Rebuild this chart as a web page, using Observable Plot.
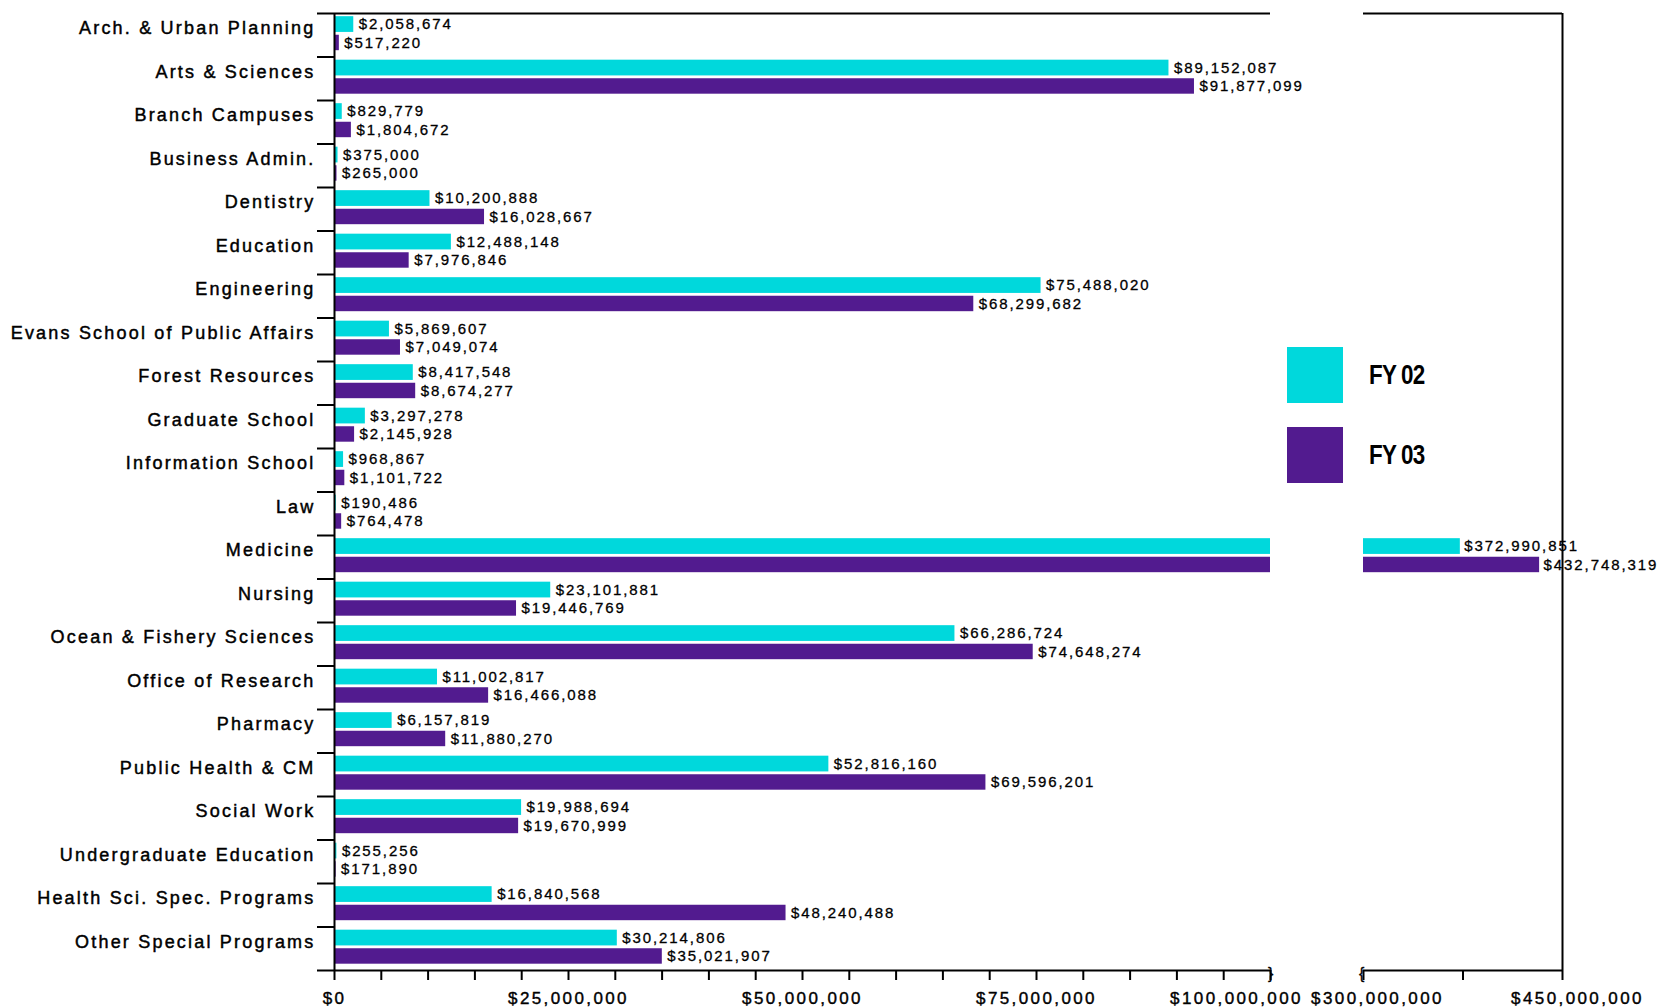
<!DOCTYPE html>
<html>
<head>
<meta charset="utf-8">
<script src="https://cdn.jsdelivr.net/npm/d3@7"></script>
<script src="https://cdn.jsdelivr.net/npm/@observablehq/plot@0.6"></script>
<style>
  body { margin: 0; background: #fff; }
  #wrap { position: relative; width: 1663px; height: 1008px; overflow: hidden; background: #fff;
          font-family: "Liberation Sans", Arial, sans-serif; }
  #wrap svg { position: absolute; top: 0; overflow: visible; background: transparent; }
  [aria-label="y-axis tick label"] text { letter-spacing: 2.2px; stroke: #000; stroke-width: 0.45px; }
  [aria-label="x-axis tick label"] text { letter-spacing: 2.4px; stroke: #000; stroke-width: 0.4px; }
  g[aria-label="text"] text { letter-spacing: 1.9px; stroke: #000; stroke-width: 0.3px; }
  .swatch { width: 56px; height: 56px; }
  .legend-text { position: absolute; font-weight: bold; font-size: 28px; transform: scaleX(0.8);
                 transform-origin: left center; letter-spacing: -1px; white-space: nowrap; color: #000; }
</style>
</head>
<body>
<div id="wrap"></div>
<script>
// ---------- data ----------
const categories = [
  "Arch. & Urban Planning", "Arts & Sciences", "Branch Campuses", "Business Admin.",
  "Dentistry", "Education", "Engineering", "Evans School of Public Affairs",
  "Forest Resources", "Graduate School", "Information School", "Law", "Medicine",
  "Nursing", "Ocean & Fishery Sciences", "Office of Research", "Pharmacy",
  "Public Health & CM", "Social Work", "Undergraduate Education",
  "Health Sci. Spec. Programs", "Other Special Programs"
];
const fy02 = [2058674, 89152087, 829779, 375000, 10200888, 12488148, 75488020, 5869607,
  8417548, 3297278, 968867, 190486, 372990851, 23101881, 66286724, 11002817, 6157819,
  52816160, 19988694, 255256, 16840568, 30214806];
const fy03 = [517220, 91877099, 1804672, 265000, 16028667, 7976846, 68299682, 7049074,
  8674277, 2145928, 1101722, 764478, 432748319, 19446769, 74648274, 16466088, 11880270,
  69596201, 19670999, 171890, 48240488, 35021907];
const seriesNames = ["FY 02", "FY 03"];
const seriesColors = ["#00d8dc", "#521b8f"];
const leftMinorTicks = d3.range(0, 100e6 + 1, 5e6);
const leftTickLabels = [0, 25e6, 50e6, 75e6];
const breakLeftLabel = [100e6];
const rightTicks = [300e6, 375e6, 450e6];

// ---------- layout constants (styles) ----------
const H = 1008, MT = 13, MB = 38;
const slot = {"FY 02": [0.073, 0.435], "FY 03": [0.50, 0.855]};
const money = d => "$" + d3.format(",")(d);
const FONT = "Liberation Sans, Arial, sans-serif";

const rows = categories.flatMap((c, i) => seriesNames.map((s, k) => ({
  cat: c, i, series: s, value: (k === 0 ? fy02 : fy03)[i],
  y1: i + slot[s][0], y2: i + slot[s][1], ym: i + (slot[s][0] + slot[s][1]) / 2
})));

const yScale = {domain: [0, categories.length], reverse: true, axis: null};
const colorScale = {domain: seriesNames, range: seriesColors};

// ---------- left panel: $0 – $100M ----------
const left = Plot.plot({
  width: 1320, height: H, marginLeft: 334, marginRight: 50, marginTop: MT, marginBottom: MB,
  style: {fontFamily: FONT, overflow: "visible", background: "transparent"},
  x: {domain: [0, 100e6], axis: null},
  y: yScale,
  color: colorScale,
  marks: [
    Plot.rectX(rows, {x1: 0, x2: "value", y1: "y1", y2: "y2", fill: "series", clip: true}),
    Plot.text(rows.filter(d => d.value < 100e6), {
      x: "value", y: "ym", text: d => money(d.value), textAnchor: "start", dx: 5,
      fontSize: 15, fill: "#000"
    }),
    // category separators
    Plot.axisY(d3.range(categories.length + 1), {
      anchor: "left", tickSize: 17, tickFormat: () => "", strokeWidth: 2, stroke: "#000"
    }),
    // category names
    Plot.axisY(d3.range(categories.length).map(i => i + 0.5), {
      anchor: "left", tickSize: 0, tickPadding: 19, fontSize: 18, fill: "#000", dy: -7,
      tickFormat: d => categories[Math.floor(d)]
    }),
    Plot.axisX(leftMinorTicks, {anchor: "bottom", tickSize: 10, tickFormat: () => "", strokeWidth: 2, stroke: "#000"}),
    Plot.axisX(leftTickLabels, {anchor: "bottom", tickSize: 0, tickPadding: 21, fontSize: 17, fill: "#000", tickFormat: money}),
    Plot.axisX(breakLeftLabel, {anchor: "bottom", tickSize: 0, tickPadding: 21, fontSize: 17, fill: "#000", tickFormat: money, dx: -34}),
    Plot.ruleY([0, categories.length], {stroke: "#000", strokeWidth: 2}),
    Plot.ruleX([0], {stroke: "#000", strokeWidth: 2}),
    Plot.text([{x: 100e6, y: categories.length, t: "}"}], {x: "x", y: "y", text: "t", fontSize: 16, dx: 1, dy: 3, fill: "#000"})
  ]
});
left.style.left = "0px";

// ---------- right panel: $300M – $450M ----------
const right = Plot.plot({
  width: 343, height: H, marginLeft: 43, marginRight: 101, marginTop: MT, marginBottom: MB,
  style: {fontFamily: FONT, overflow: "visible", background: "transparent"},
  x: {domain: [300e6, 450e6], axis: null},
  y: yScale,
  color: colorScale,
  marks: [
    Plot.rectX(rows.filter(d => d.value > 300e6), {x1: 0, x2: "value", y1: "y1", y2: "y2", fill: "series", clip: true}),
    Plot.axisX(rightTicks, {anchor: "bottom", tickSize: 10, tickFormat: () => "", strokeWidth: 2, stroke: "#000"}),
    Plot.axisX([rightTicks[0]], {anchor: "bottom", tickSize: 0, tickPadding: 21, fontSize: 17, fill: "#000", tickFormat: money, dx: 14}),
    Plot.axisX([rightTicks[2]], {anchor: "bottom", tickSize: 0, tickPadding: 21, fontSize: 17, fill: "#000", tickFormat: money, dx: 15}),
    Plot.ruleY([0, categories.length], {stroke: "#000", strokeWidth: 2}),
    Plot.ruleX([450e6], {stroke: "#000", strokeWidth: 2}),
    Plot.text(rows.filter(d => d.value > 300e6), {
      x: "value", y: "ym", text: d => money(d.value), textAnchor: "start", dx: 4,
      fontSize: 15, fill: "#000"
    }),
    Plot.text([{x: 300e6, y: categories.length, t: "{"}], {x: "x", y: "y", text: "t", fontSize: 16, dx: -1, dy: 3, fill: "#000"})
  ]
});
right.style.left = "1320px";

const wrap = document.getElementById("wrap");
wrap.appendChild(left);
wrap.appendChild(right);

// ---------- legend ----------
seriesNames.forEach((s, k) => {
  const sw = document.createElement("div");
  sw.className = "swatch";
  sw.style.cssText = `position:absolute;left:1287px;top:${347 + k * 80}px;background:${seriesColors[k]};`;
  wrap.appendChild(sw);
  const t = document.createElement("div");
  t.className = "legend-text";
  t.textContent = s;
  t.style.left = "1369px";
  t.style.top = `${359 + k * 80}px`;
  wrap.appendChild(t);
});
</script>
</body>
</html>
